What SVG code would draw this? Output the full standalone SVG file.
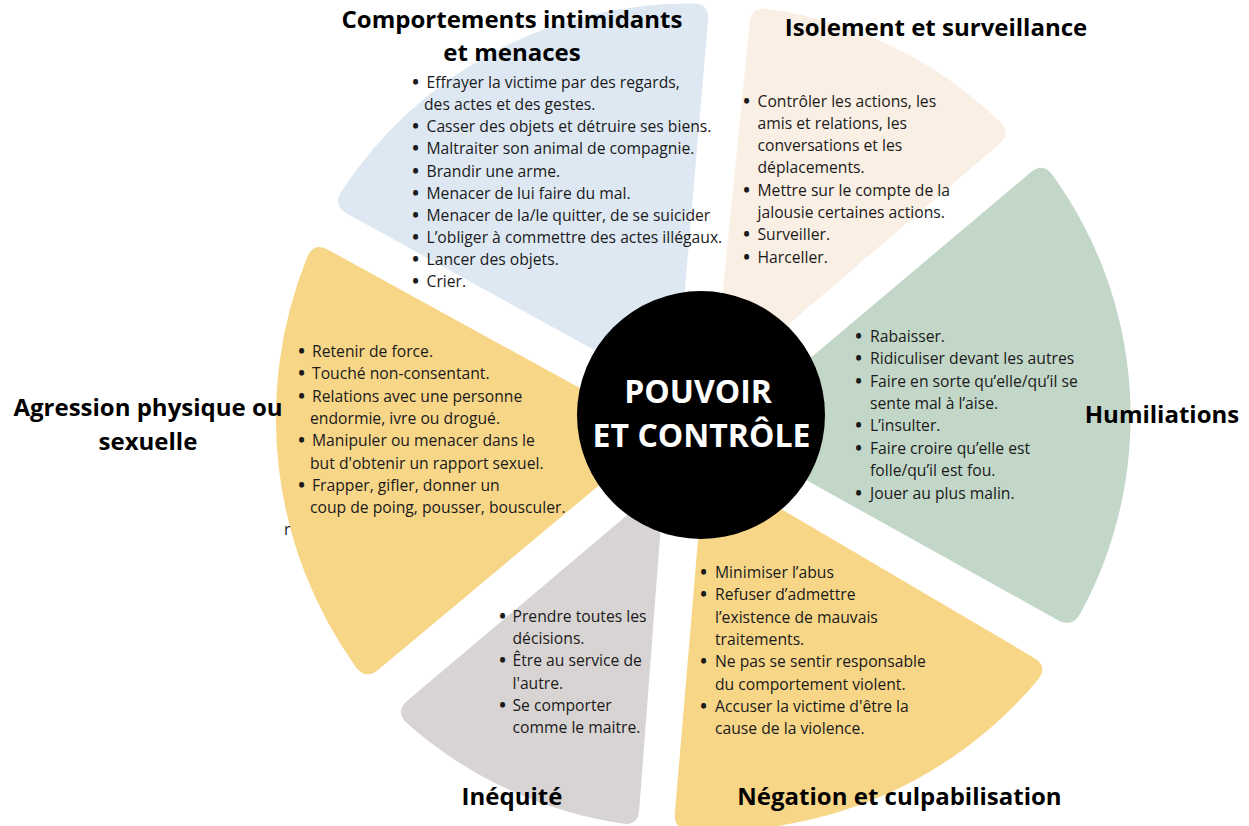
<svg xmlns="http://www.w3.org/2000/svg" width="1249" height="826" viewBox="0 0 1249 826">
<style>
text{font-family:"Open Sans","Liberation Sans",sans-serif}
.t{font-size:24px;font-weight:700;fill:#000;text-anchor:middle}
.li{font-size:15.7px;fill:#1a1a1a}
.b{font-weight:800}
.c{font-size:32px;font-weight:700;fill:#fff;text-anchor:middle}
</style>
<rect width="1249" height="826" fill="#fff"/>
<g id="connectors"/>
<g id="intimidation">
<path fill="#dee8f3" d="M676,395 L347,213.7 Q333,206 340.9,192.1 A414,414 0 0 1 693.4,3.6 Q709.4,4 708,19.9 Z"/>
<text class="t" x="512" y="28">Comportements intimidants</text>
<text class="t" x="512" y="61">et menaces</text>
<text class="li" y="88"><tspan class="b" x="412.6">•</tspan><tspan x="426.5">Effrayer la victime par des regards,</tspan></text>
<text class="li" x="424" y="110">des actes et des gestes.</text>
<text class="li" y="132"><tspan class="b" x="412.6">•</tspan><tspan x="426.5">Casser des objets et détruire ses biens.</tspan></text>
<text class="li" y="154"><tspan class="b" x="412.6">•</tspan><tspan x="426.5">Maltraiter son animal de compagnie.</tspan></text>
<text class="li" y="177"><tspan class="b" x="412.6">•</tspan><tspan x="426.5">Brandir une arme.</tspan></text>
<text class="li" y="199"><tspan class="b" x="412.6">•</tspan><tspan x="426.5">Menacer de lui faire du mal.</tspan></text>
<text class="li" y="221"><tspan class="b" x="412.6">•</tspan><tspan x="426.5">Menacer de la/le quitter, de se suicider</tspan></text>
<text class="li" y="243"><tspan class="b" x="412.6">•</tspan><tspan x="426.5">L’obliger à commettre des actes illégaux.</tspan></text>
<text class="li" y="265"><tspan class="b" x="412.6">•</tspan><tspan x="426.5">Lancer des objets.</tspan></text>
<text class="li" y="287"><tspan class="b" x="412.6">•</tspan><tspan x="426.5">Crier.</tspan></text>
</g>
<g id="isolement">
<path fill="#faefe4" d="M713,389 L749.7,22.9 Q751.3,7 767.2,9 A414,414 0 0 1 1000.3,122.1 Q1011,134 998.8,144.4 Z"/>
<text class="t" x="936" y="36">Isolement et surveillance</text>
<text class="li" y="107"><tspan class="b" x="743.6">•</tspan><tspan x="757.5">Contrôler les actions, les</tspan></text>
<text class="li" x="757.5" y="129">amis et relations, les</text>
<text class="li" x="757.5" y="151">conversations et les</text>
<text class="li" x="757.5" y="173">déplacements.</text>
<text class="li" y="196"><tspan class="b" x="743.6">•</tspan><tspan x="757.5">Mettre sur le compte de la</tspan></text>
<text class="li" x="757.5" y="218">jalousie certaines actions.</text>
<text class="li" y="240"><tspan class="b" x="743.6">•</tspan><tspan x="757.5">Surveiller.</tspan></text>
<text class="li" y="263"><tspan class="b" x="743.6">•</tspan><tspan x="757.5">Harceller.</tspan></text>
</g>
<g id="humiliations">
<path fill="#c3d7c9" d="M721.5,433 L1030.8,172.3 Q1043,162 1052.5,174.9 A412,412 0 0 1 1080,614.1 Q1072,628 1058,620.2 Z"/>
<text class="t" x="1162" y="423">Humiliations</text>
<text class="li" y="342"><tspan class="b" x="855.6">•</tspan><tspan x="870">Rabaisser.</tspan></text>
<text class="li" y="364"><tspan class="b" x="855.6">•</tspan><tspan x="870">Ridiculiser devant les autres</tspan></text>
<text class="li" y="387"><tspan class="b" x="855.6">•</tspan><tspan x="870">Faire en sorte qu’elle/qu’il se</tspan></text>
<text class="li" x="870" y="409">sente mal à l’aise.</text>
<text class="li" y="431"><tspan class="b" x="855.6">•</tspan><tspan x="870">L’insulter.</tspan></text>
<text class="li" y="454"><tspan class="b" x="855.6">•</tspan><tspan x="870">Faire croire qu’elle est</tspan></text>
<text class="li" x="870" y="476">folle/qu’il est fou.</text>
<text class="li" y="499"><tspan class="b" x="855.6">•</tspan><tspan x="870">Jouer au plus malin.</tspan></text>
</g>
<g id="negation">
<path fill="#f8d688" d="M704.4,463.8 L1034.2,657.9 Q1048,666 1038.6,679 A422,422 0 0 1 689.6,830 Q673.6,829 674.9,813.1 Z"/>
<text class="t" x="899.5" y="805">Négation et culpabilisation</text>
<text class="li" y="578"><tspan class="b" x="700.6">•</tspan><tspan x="715">Minimiser l’abus</tspan></text>
<text class="li" y="600"><tspan class="b" x="700.6">•</tspan><tspan x="715">Refuser d’admettre</tspan></text>
<text class="li" x="715" y="623">l’existence de mauvais</text>
<text class="li" x="715" y="645">traitements.</text>
<text class="li" y="667"><tspan class="b" x="700.6">•</tspan><tspan x="715">Ne pas se sentir responsable</tspan></text>
<text class="li" x="715" y="690">du comportement violent.</text>
<text class="li" y="712"><tspan class="b" x="700.6">•</tspan><tspan x="715">Accuser la victime d'être la</tspan></text>
<text class="li" x="715" y="734">cause de la violence.</text>
</g>
<g id="inequite">
<path fill="#d8d4d4" d="M664,484 L639.2,810 Q638,826 622.2,823.6 A418,418 0 0 1 406.1,722.5 Q395,711 407.2,700.7 Z"/>
<text class="t" x="512" y="805">Inéquité</text>
<text class="li" y="622"><tspan class="b" x="499.6">•</tspan><tspan x="512.5">Prendre toutes les</tspan></text>
<text class="li" x="512.5" y="644">décisions.</text>
<text class="li" y="666"><tspan class="b" x="499.6">•</tspan><tspan x="512.5">Être au service de</tspan></text>
<text class="li" x="512.5" y="689">l'autre.</text>
<text class="li" y="711"><tspan class="b" x="499.6">•</tspan><tspan x="512.5">Se comporter</tspan></text>
<text class="li" x="512.5" y="733">comme le maitre.</text>
</g>
<g id="agression">
<path fill="#f8d688" d="M661.7,433 L378.3,669.7 Q366,680 356.1,667.5 A428,428 0 0 1 307.5,256.6 Q314,242 328,249.7 Z"/>
<text class="t" x="148" y="416">Agression physique ou</text>
<text class="t" x="148" y="450">sexuelle</text>
<text class="li" y="357"><tspan class="b" x="298.6">•</tspan><tspan x="312">Retenir de force.</tspan></text>
<text class="li" y="379"><tspan class="b" x="298.6">•</tspan><tspan x="312">Touché non-consentant.</tspan></text>
<text class="li" y="402"><tspan class="b" x="298.6">•</tspan><tspan x="312">Relations avec une personne</tspan></text>
<text class="li" x="310" y="424">endormie, ivre ou drogué.</text>
<text class="li" y="446"><tspan class="b" x="298.6">•</tspan><tspan x="312">Manipuler ou menacer dans le</tspan></text>
<text class="li" x="310" y="469">but d'obtenir un rapport sexuel.</text>
<text class="li" y="491"><tspan class="b" x="298.6">•</tspan><tspan x="312">Frapper, gifler, donner un</tspan></text>
<text class="li" x="310" y="513">coup de poing, pousser, bousculer.</text>
<text class="li" x="284" y="535">r</text>
</g>
<g id="centre">
<circle cx="701" cy="415" r="124" fill="#000"/>
<text class="c" x="698" y="403">POUVOIR</text>
<text class="c" x="701.5" y="447">ET CONTRÔLE</text>
</g>
</svg>
